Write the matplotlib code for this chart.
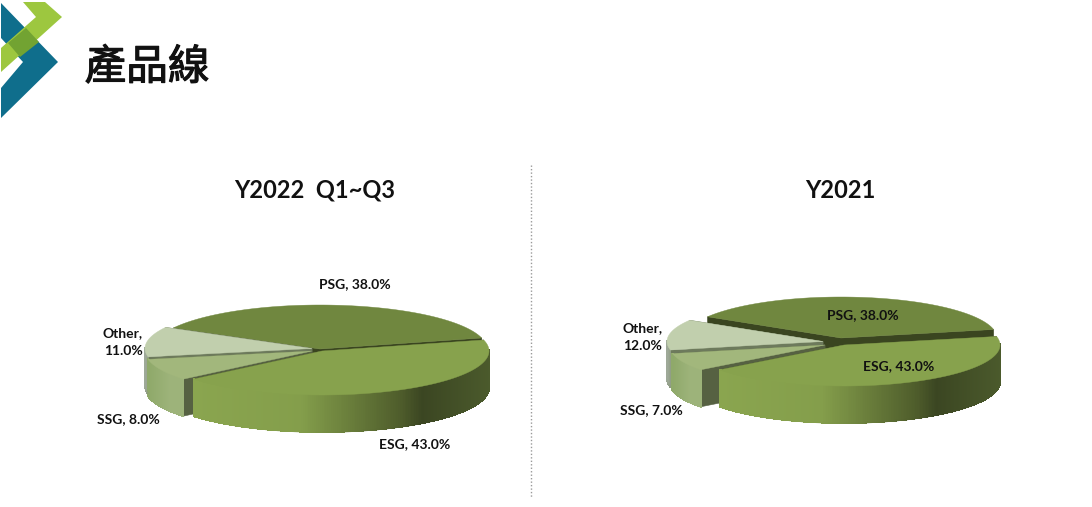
import numpy as np
import matplotlib
matplotlib.use("Agg")
import matplotlib.pyplot as plt
import matplotlib.patheffects as pe
from matplotlib.collections import LineCollection, PolyCollection
from matplotlib.colors import to_rgb
from matplotlib.patches import Polygon

plt.rcParams["font.family"] = ["Lato", "DejaVu Sans"]

# data
slices = ["ESG", "SSG", "Other", "PSG"]
shares_2022 = [43.0, 8.0, 11.0, 38.0]
shares_2021 = [43.0, 7.0, 12.0, 38.0]
title_text = "產品線"
title_2022 = "Y2022  Q1~Q3"
title_2021 = "Y2021"

# styles
TOP = {"ESG": "#87a24d", "SSG": "#a2b77c", "Other": "#c1cfad", "PSG": "#70873f"}
FACE = {"ESG": "#3c4722", "SSG": "#566142", "Other": "#6d7a5c", "PSG": "#3a4520"}
WALL = {
    "ESG": [(0, "#8aa54f"), (0.36, "#849e4b"), (0.7, "#4e5c2b"), (0.77, "#3b4622"), (1, "#4b5a2c")],
    "SSG": [(0, "#8fa96a"), (0.6, "#9db37a"), (1, "#9db37a")],
    "Other": [(0, "#9ea998"), (1, "#8d9a80")],
    "PSG": [(0, "#4b5a2c"), (1, "#3b4622")],
}
DRAW_ORDER = ["PSG", "Other", "SSG", "ESG"]


def blend(stops, f):
    xs = [s[0] for s in stops]
    cols = np.array([to_rgb(s[1]) for s in stops])
    return tuple(np.interp(f, xs, cols[:, i]) for i in range(3))


def draw_pie(ax, shares, start, rx, ry, depth, apex):
    a0 = start
    spans = {}
    for name, share in zip(slices, shares):
        a1 = a0 - share * 3.6
        spans[name] = (a0, a1)
        a0 = a1

    for name in DRAW_ORDER:
        a0, a1 = spans[name]
        cx, cy = apex[name]
        th = np.radians(np.linspace(a0, a1, 240))
        xs = cx + rx * np.cos(th)
        ys = cy - ry * np.sin(th)

        # cut faces
        for x, y in [(xs[0], ys[0]), (xs[-1], ys[-1])]:
            ax.add_patch(Polygon([(cx, cy), (x, y), (x, y + depth), (cx, cy + depth)],
                                 closed=True, fc=FACE[name], ec=FACE[name], lw=0.4))

        # outer wall, only the front part shows
        front = np.sin(th) < 0.02
        if front.any():
            fx, fy = xs[front], ys[front]
            lo, hi = fx.min(), fx.max()
            quads, edges, colors = [], [], []
            for i in range(len(fx) - 1):
                quads.append([(fx[i], fy[i]), (fx[i + 1], fy[i + 1]),
                              (fx[i + 1], fy[i + 1] + depth), (fx[i], fy[i] + depth)])
                edges.append([(fx[i], fy[i] + depth), (fx[i + 1], fy[i + 1] + depth)])
                colors.append(blend(WALL[name], ((fx[i] + fx[i + 1]) / 2 - lo) / max(hi - lo, 1)))
            ax.add_collection(PolyCollection(quads, facecolors=colors, edgecolors=colors,
                                             linewidths=0.6, antialiaseds=False))
            # smooth the lower rim
            ax.add_collection(LineCollection(edges, colors=colors, linewidths=1.0))

        # top surface
        pts = [(cx, cy)] + list(zip(xs, ys))
        ax.add_patch(Polygon(pts, closed=True, fc=TOP[name], ec=TOP[name], lw=0.3))


fig = plt.figure(figsize=(10.92, 5.07), dpi=100, facecolor="white")
ax = fig.add_axes([0, 0, 1, 1])
ax.set_xlim(0, 1092)
ax.set_ylim(507, 0)
ax.axis("off")

# logo
ax.add_patch(Polygon([(1, 3), (58, 62), (1, 118), (1, 88), (23, 62), (1, 38)], fc="#0f6e8c", ec="none"))
ax.add_patch(Polygon([(23, 2), (45, 2), (62, 17), (1, 72), (1, 48), (36, 17)], fc="#9dc73f", ec="none"))
ax.add_patch(Polygon([(26, 28), (39, 42), (20, 57), (8, 43)], fc="#72a332", ec="none"))

t = ax.text(147, 68, title_text, family=["Noto Sans CJK TC", "DejaVu Sans"], fontsize=30,
            ha="center", va="center", color="#111111")
t.set_path_effects([pe.withStroke(linewidth=0.8, foreground="#111111")])

ax.plot([531, 531], [165, 498], color="#9a9a9a", lw=1, ls=(0, (1, 1.5)))

ax.text(315, 190, title_2022, fontsize=17, fontweight="bold", ha="center", va="center", color="#111111")
ax.text(840, 190, title_2021, fontsize=17, fontweight="bold", ha="center", va="center", color="#111111")

draw_pie(ax, shares_2022, 14.5, 167, 44, 37,
         {"PSG": (320, 349), "ESG": (322, 351), "SSG": (312, 351), "Other": (312, 348.5)})
draw_pie(ax, shares_2021, 12, 156, 41, 37,
         {"PSG": (841, 338), "ESG": (844, 345), "SSG": (825, 345), "Other": (823, 341.5)})


def pie_label(x, y, name, share, sep=", "):
    ax.text(x, y, f"{name}{sep}{share:.1f}%", fontsize=10, fontweight="bold",
            ha="center", va="center", color="#111111", linespacing=1.55)


pie_label(355, 284, "PSG", shares_2022[3])
pie_label(415, 444, "ESG", shares_2022[0])
pie_label(128, 419, "SSG", shares_2022[1])
pie_label(123, 342, "Other", shares_2022[2], sep=",\n")
pie_label(863, 315, "PSG", shares_2021[3])
pie_label(899, 366, "ESG", shares_2021[0])
pie_label(651, 410, "SSG", shares_2021[1])
pie_label(643, 337, "Other", shares_2021[2], sep=",\n")

fig.savefig("out.png", dpi=100)
